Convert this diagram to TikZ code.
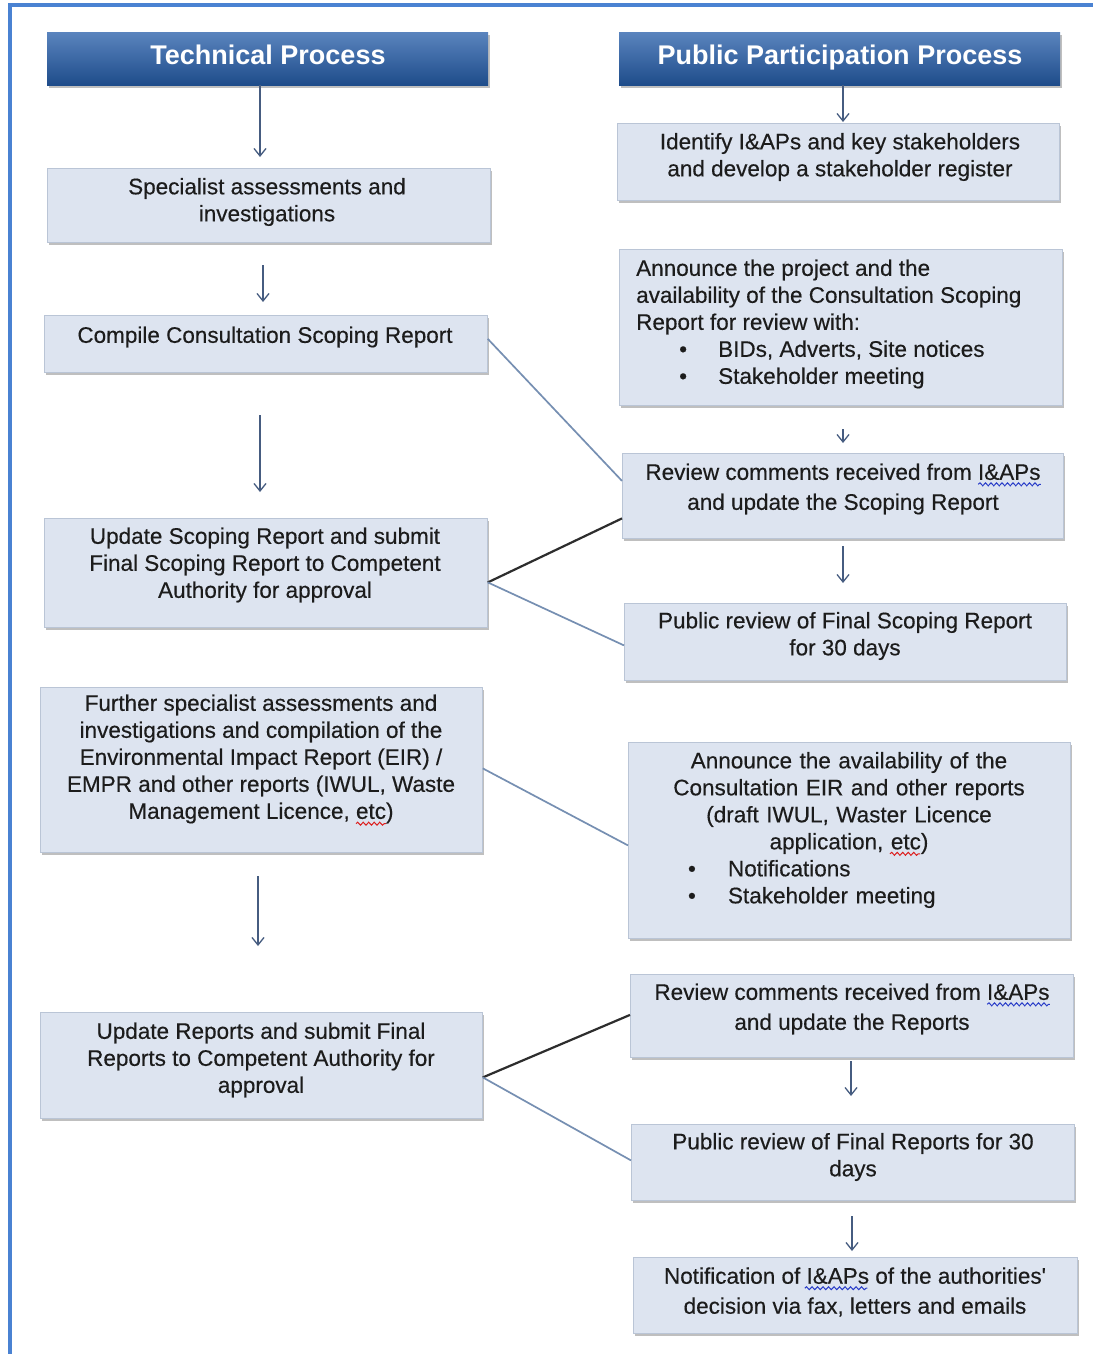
\documentclass[tikz,border=0pt]{standalone}
\usepackage{fontspec}
\setmainfont{Liberation Sans}
\newfontfamily\bodyfont{Liberation Sans}[FakeBold=0.35]
\usetikzlibrary{arrows.meta,shadows,decorations.pathmorphing,calc}

\definecolor{boxfill}{RGB}{221,228,240}
\definecolor{boxline}{RGB}{186,197,214}
\definecolor{headtop}{RGB}{90,132,190}
\definecolor{headbot}{RGB}{30,76,138}
\definecolor{arrowcol}{RGB}{70,92,128}
\definecolor{linkcol}{RGB}{118,143,178}
\definecolor{linkdark}{RGB}{45,45,45}
\definecolor{framecol}{RGB}{74,130,210}
\definecolor{inkcol}{RGB}{28,28,28}
\definecolor{spellblue}{RGB}{40,60,200}
\definecolor{spellred}{RGB}{220,30,30}

\tikzset{
  box/.style={draw=boxline, line width=0.8pt, fill=boxfill, anchor=north west,
    inner sep=0pt, drop shadow={shadow xshift=1.5pt, shadow yshift=-3pt, opacity=0.45, fill=black!55}},
  header/.style={anchor=north west, top color=headtop, bottom color=headbot, draw=none,
    inner sep=0pt, drop shadow={shadow xshift=1.5pt, shadow yshift=-3pt, opacity=0.45, fill=black!55}},
  txt/.style={font=\bodyfont\fontsize{22.5}{27}\selectfont, text=inkcol, align=center, inner sep=0pt},
  txtw/.style={txt, font=\bodyfont\fontsize{22.5}{30}\selectfont},
  headtxt/.style={font=\fontsize{27}{32}\selectfont\bfseries, text=white, inner sep=0pt,
    text height=19.5pt, text depth=5.5pt},
  arr/.style={draw=arrowcol, line width=1.3pt, -{Straight Barb[length=7.5pt,width=12pt,line width=1.3pt]}},
  link/.style={draw=linkcol, line width=1.7pt},
  linkd/.style={draw=linkdark, line width=2.2pt},
  spell/.style={line width=1pt, decorate, decoration={snake, amplitude=1.5pt, segment length=5.5pt}},
}

\begin{document}
\begin{tikzpicture}[x=1pt,y=-1pt]
\useasboundingbox (0,0) rectangle (1093,1354);
\fill[white] (0,0) rectangle (1093,1354);

% page frame
\draw[framecol, line width=3.5pt] (10,1354) -- (10,5) -- (1093,5);

% ---------- headers ----------
\node[header, minimum width=441pt, minimum height=53pt] (TH) at (47,32) {};
\node[headtxt] (THt) at (268,58) {Technical Process};
\node[header, minimum width=441pt, minimum height=53pt] (PH) at (619,32) {};
\node[headtxt] (PHt) at (840,58) {Public Participation Process};

% ---------- technical process ----------
\node[box, minimum width=443pt, minimum height=74pt] (L1) at (47,168) {};
\node[txt] (L1t) at (267,202) {Specialist assessments and\\investigations};

\node[box, minimum width=443pt, minimum height=57pt] (L2) at (44,315) {};
\node[txt] (L2t) at (265,337) {Compile Consultation Scoping Report};

\node[box, minimum width=443pt, minimum height=109pt] (L3) at (44,518) {};
\node[txt] (L3t) at (265,565) {Update Scoping Report and submit\\Final Scoping Report to Competent\\Authority for approval};

\node[box, minimum width=442pt, minimum height=165pt] (L4) at (40,687) {};
\node[txt] (L4t) at (261,759) {Further specialist assessments and\\investigations and compilation of the\\Environmental Impact Report (EIR) /\\EMPR and other reports (IWUL, Waste\\Management Licence, etc)};

\node[box, minimum width=442pt, minimum height=106pt] (L5) at (40,1012) {};
\node[txt] (L5t) at (261,1060) {Update Reports and submit Final\\Reports to Competent Authority for\\approval};

% ---------- public participation process ----------
\node[box, minimum width=442pt, minimum height=77pt] (R1) at (617,123) {};
\node[txt] (R1t) at (840,157) {Identify I\&APs and key stakeholders\\and develop a stakeholder register};

\node[box, minimum width=443pt, minimum height=156pt] (R2) at (619,249) {};
\node[txt, align=left, anchor=west] (R2t) at (636,324) {Announce the project and the\\availability of the Consultation Scoping\\Report for review with:\\\hspace*{43pt}\makebox[39pt][l]{\textbullet}BIDs, Adverts, Site notices\\\hspace*{43pt}\makebox[39pt][l]{\textbullet}Stakeholder meeting};

\node[box, minimum width=441pt, minimum height=85pt] (R3) at (622,453) {};
\node[txtw] (R3t) at (843,489) {Review comments received from I\&APs\\and update the Scoping Report};

\node[box, minimum width=442pt, minimum height=77pt] (R4) at (624,603) {};
\node[txt] (R4t) at (845,636) {Public review of Final Scoping Report\\for 30 days};

\node[box, minimum width=442pt, minimum height=196pt] (R5) at (628,742) {};
\node[txt, text width=400pt] (R5t) at (849,830) {Announce the availability of the\\Consultation EIR and other reports\\(draft IWUL, Waster Licence\\application, etc)\\\makebox[400pt][l]{\hspace*{39pt}\makebox[40pt][l]{\textbullet}Notifications}\\\makebox[400pt][l]{\hspace*{39pt}\makebox[40pt][l]{\textbullet}Stakeholder meeting}};

\node[box, minimum width=443pt, minimum height=83pt] (R6) at (630,974) {};
\node[txtw] (R6t) at (852,1009) {Review comments received from I\&APs\\and update the Reports};

\node[box, minimum width=443pt, minimum height=76pt] (R7) at (631,1124) {};
\node[txt] (R7t) at (853,1157) {Public review of Final Reports for 30\\days};

\node[box, minimum width=444pt, minimum height=76pt] (R8) at (633,1257) {};
\node[txtw] (R8t) at (855,1292) {Notification of I\&APs of the authorities\textquotesingle\\decision via fax, letters and emails};

% ---------- spell-checker underlines ----------
\draw[spell, spellblue] ($(R3t.north east)+(-62.5,21)$) -- ($(R3t.north east)+(0,21)$);
\draw[spell, spellblue] ($(R6t.north east)+(-62.5,21)$) -- ($(R6t.north east)+(0,21)$);
\draw[spell, spellblue] ($(R8t.north west)+(141,21)$) -- ($(R8t.north west)+(203.5,21)$);
\draw[spell, spellred]  ($(L4t.south)+(95,0)$) -- ($(L4t.south)+(125,0)$);
\draw[spell, spellred]  ($(R5t.north)+(41,102)$) -- ($(R5t.north)+(71,102)$);

% ---------- flow arrows (free-standing between boxes) ----------
\coordinate (a1s) at (260,85);   \coordinate (a1e) at (260,157);
\coordinate (a2s) at (263,265);  \coordinate (a2e) at (263,302);
\coordinate (a3s) at (260,415);  \coordinate (a3e) at (260,492);
\coordinate (a4s) at (258,876);  \coordinate (a4e) at (258,946);
\coordinate (b1s) at (843,85);   \coordinate (b1e) at (843,122);
\coordinate (b2s) at (843,429);  \coordinate (b2e) at (843,443);
\coordinate (b3s) at (843,546);  \coordinate (b3e) at (843,583);
\coordinate (b4s) at (851,1061); \coordinate (b4e) at (851,1096);
\coordinate (b5s) at (852,1216); \coordinate (b5e) at (852,1251);
\foreach \p in {a1,a2,a3,a4,b1,b2,b3,b4,b5}
  \draw[arr] (\p s) -- (\p e);

% ---------- links between the two processes ----------
\draw[link]  ([yshift=5pt]L2.east)    -- ([yshift=15pt]R3.west);
\draw[linkd] ([yshift=-9.5pt]L3.east) -- ([yshift=-22.5pt]R3.west);
\draw[link]  ([yshift=-9.5pt]L3.east) -- ([yshift=-3.5pt]R4.west);
\draw[link]  ([yshift=1.5pt]L4.east)  -- ([yshift=-5pt]R5.west);
\draw[linkd] ([yshift=-12pt]L5.east)  -- ([yshift=1pt]R6.west);
\draw[link]  ([yshift=-12pt]L5.east)  -- ([yshift=2pt]R7.west);
\end{tikzpicture}
\end{document}
